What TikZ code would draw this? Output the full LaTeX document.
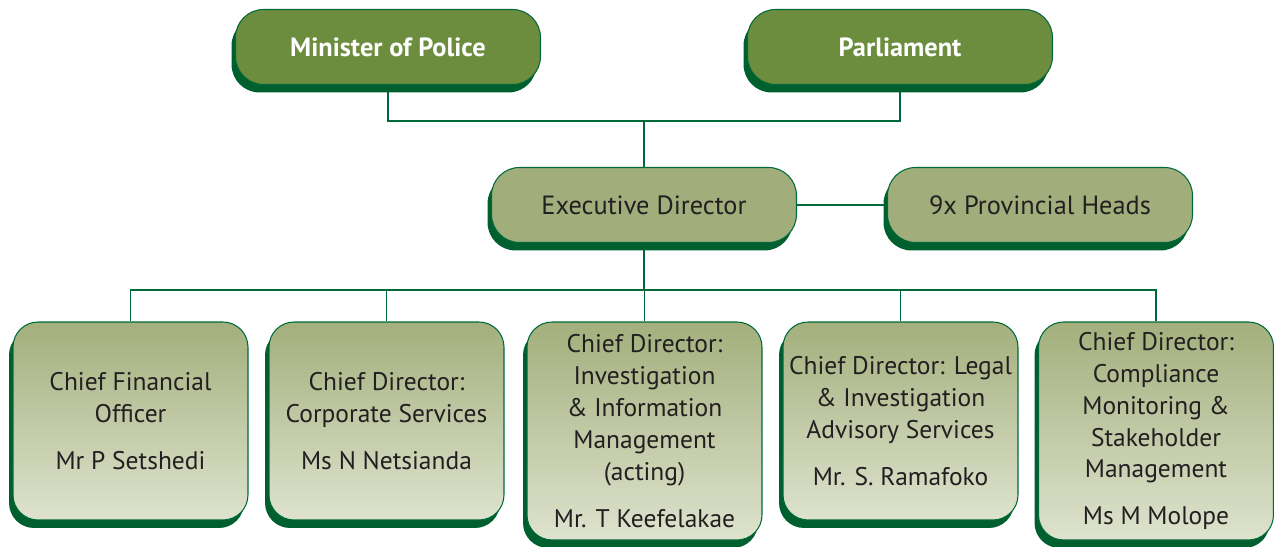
\documentclass[tikz,border=0pt]{standalone}
\usepackage{fontspec}
\setmainfont{PT Sans}
\usetikzlibrary{shadows,backgrounds}

\definecolor{topgreen}{HTML}{6C8C3E}
\definecolor{midgreen}{HTML}{A1AE7B}
\definecolor{shadowgreen}{HTML}{005F2E}
\definecolor{edgegreen}{HTML}{00693A}
\definecolor{paletop}{HTML}{A3AF7C}
\definecolor{palebot}{HTML}{DEE3CE}
\definecolor{inktext}{HTML}{231F20}

\tikzset{
    box/.style={draw=edgegreen, line width=0.6pt, rounded corners=0.56cm,
        drop shadow={shadow xshift=-0.08cm, shadow yshift=-0.16cm, fill=shadowgreen, opacity=1},
        align=center, inner sep=2pt},
    headbox/.style={box, fill=topgreen, text=white, minimum width=6.1cm, minimum height=1.5cm,
        font=\fontsize{15}{18}\selectfont\bfseries},
    midbox/.style={box, fill=midgreen, text=inktext, minimum width=6.1cm, minimum height=1.5cm,
        font=\fontsize{15}{18}\selectfont},
    unitbox/.style={box, top color=paletop, bottom color=palebot, text=inktext,
        minimum width=4.7cm, minimum height=3.96cm, rounded corners=0.5cm,
        font=\fontsize{14.5}{18.2}\selectfont},
    link/.style={draw=edgegreen, line width=0.85pt}
}

\begin{document}
\begin{tikzpicture}[x=0.02cm, y=-0.02cm]
    \useasboundingbox (0, 0) rectangle (1274, 547);

    % Top level
    \node[headbox] (minister) at (388, 47) {Minister of Police};
    \node[headbox] (parliament) at (900, 47) {Parliament};

    % Second level
    \node[midbox] (exec) at (644, 205) {Executive Director};
    \node[midbox] (prov) at (1040, 205) {9x Provincial Heads};

    % Chief directorates
    \node[unitbox] (cfo) at (130.5, 421) {Chief Financial\\Officer\\[0.3cm]Mr P Setshedi};
    \node[unitbox] (corp) at (386.5, 421) {Chief Director:\\Corporate Services\\[0.3cm]Ms N Netsianda};
    \node[unitbox, minimum height=4.36cm] (invest) at (644.5, 431) {Chief Director:\\Investigation\\\& Information\\Management\\(acting)\\[0.3cm]Mr. T Keefelakae};
    \node[unitbox] (legal) at (900.5, 421) {Chief Director: Legal\\\& Investigation\\Advisory Services\\[0.3cm]Mr. S. Ramafoko};
    \node[unitbox, minimum height=4.36cm] (comply) at (1156, 431) {Chief Director:\\Compliance\\Monitoring \&\\Stakeholder\\Management\\[0.3cm]Ms M Molope};

    % Connectors
    \coordinate (topjoin) at (644, 121);
    \coordinate (hub) at (644, 290);
    \begin{scope}[on background layer]
        \draw[link] (minister.south) |- (topjoin);
        \draw[link] (parliament.south) |- (topjoin);
        \draw[link] (topjoin) -- (exec.north);
        \draw[link] (exec.east) -- (prov.west);
        \draw[link] (exec.south) -- (hub);
        \foreach \unit in {cfo, corp, invest, legal, comply}
            \draw[link] (hub) -| (\unit.north);
    \end{scope}
\end{tikzpicture}
\end{document}
